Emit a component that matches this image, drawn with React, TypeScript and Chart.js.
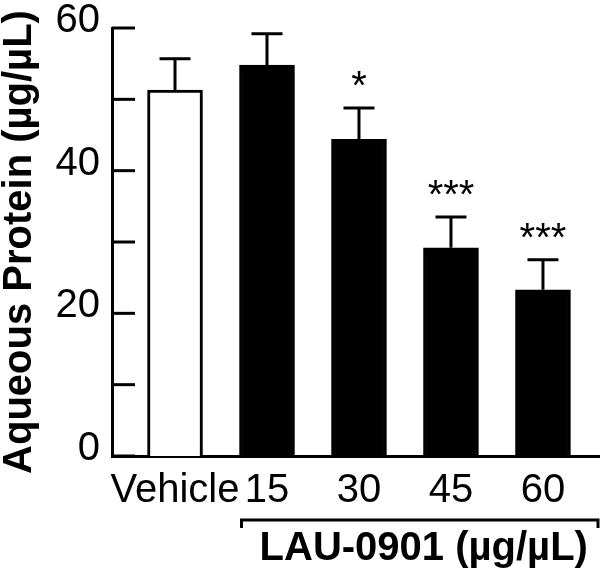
import React, { useEffect, useRef } from 'react';
import { Chart, registerables } from 'chart.js';

Chart.register(...registerables);

const categories = ['Vehicle', '15', '30', '45', '60'];
const means = [51.3, 54.8, 44.4, 29.2, 23.3];
const errors = [4.4, 4.4, 4.4, 4.3, 4.2];
const significance = ['', '', '*', '***', '***'];
const fillColors = ['#ffffff', '#000000', '#000000', '#000000', '#000000'];
const yTickValues = [0, 10, 20, 30, 40, 50, 60];
const yLabelledTicks = [0, 20, 40, 60];
const yTitle = 'Aqueous Protein (µg/µL)';
const groupLabel = 'LAU-0901 (µg/µL)';

const FONT = '"Liberation Sans", Arial, Helvetica, sans-serif';
const FONT_SIZE = 40;

const annotationPlugin = {
  id: 'annotations',
  afterDatasetsDraw(chart: any) {
    const ctx = chart.ctx as CanvasRenderingContext2D;
    const y = chart.scales.y;
    const area = chart.chartArea;
    const meta = chart.getDatasetMeta(0);
    ctx.save();
    ctx.strokeStyle = '#000';
    ctx.fillStyle = '#000';
    ctx.lineWidth = 3;
    ctx.lineCap = 'butt';

    // inward y ticks
    yTickValues.forEach((v) => {
      const py = y.getPixelForValue(v);
      ctx.beginPath();
      ctx.moveTo(area.left, py);
      ctx.lineTo(area.left + 23, py);
      ctx.stroke();
    });

    // error bars and significance marks
    meta.data.forEach((bar: any, i: number) => {
      const cx = bar.x;
      const top = y.getPixelForValue(means[i]);
      const cap = y.getPixelForValue(means[i] + errors[i]);
      ctx.beginPath();
      ctx.moveTo(cx, top);
      ctx.lineTo(cx, cap);
      ctx.moveTo(cx - 15.5, cap);
      ctx.lineTo(cx + 15.5, cap);
      ctx.stroke();
      if (significance[i]) {
        ctx.font = `${FONT_SIZE}px ${FONT}`;
        ctx.textAlign = 'center';
        ctx.textBaseline = 'alphabetic';
        ctx.fillText(significance[i], cx, cap - 9);
      }
    });

    // group bracket
    const first = meta.data[1];
    const bl = first.x - first.width / 2 + 2;
    const br = area.right - 2;
    const by = area.bottom + 64;
    ctx.beginPath();
    ctx.moveTo(bl, by + 8);
    ctx.lineTo(bl, by);
    ctx.lineTo(br, by);
    ctx.lineTo(br, by + 8);
    ctx.stroke();

    ctx.font = `bold ${FONT_SIZE}px ${FONT}`;
    ctx.textAlign = 'center';
    ctx.textBaseline = 'alphabetic';
    ctx.fillText(groupLabel, (bl + br) / 2 + 4, area.bottom + 104);
    ctx.restore();
  },
};

export default function App() {
  const canvasRef = useRef<HTMLCanvasElement | null>(null);

  useEffect(() => {
    document.body.style.margin = '0';
    const canvas = canvasRef.current;
    if (!canvas) return;
    Chart.defaults.font.family = FONT;
    Chart.defaults.color = '#000';

    const chart = new Chart(canvas, {
      type: 'bar',
      data: {
        datasets: [
          {
            data: means.map((v, i) => ({ x: i, y: v })),
            backgroundColor: fillColors,
            borderColor: '#000',
            borderWidth: 3,
            barThickness: 55,
          },
        ],
      },
      options: {
        animation: false,
        responsive: false,
        devicePixelRatio: 1,
        layout: { padding: { top: 28, left: 0, right: 0, bottom: 0 } },
        plugins: {
          legend: { display: false },
          tooltip: { enabled: false },
        },
        scales: {
          x: {
            type: 'linear',
            min: -0.685,
            max: 4.62,
            offset: false,
            z: 1,
            grid: { display: false, drawTicks: false },
            border: { display: true, width: 3, color: '#000' },
            afterBuildTicks: (scale: any) => {
              scale.ticks = categories.map((_, i) => ({ value: i }));
            },
            afterFit: (scale: any) => {
              scale.height = 115;
              scale.paddingLeft = 0;
              scale.paddingRight = 0;
            },
            ticks: {
              autoSkip: false,
              maxRotation: 0,
              padding: 11,
              color: '#000',
              font: { size: FONT_SIZE },
              callback: (v: any) => categories[v] ?? '',
            },
          },
          y: {
            type: 'linear',
            min: 0,
            max: 60,
            z: 1,
            grid: { display: false, drawTicks: false },
            border: { display: true, width: 3, color: '#000' },
            afterFit: (scale: any) => {
              scale.width = 112;
              scale.paddingTop = 0;
              scale.paddingBottom = 0;
            },
            ticks: {
              stepSize: 10,
              padding: 12,
              labelOffset: -7,
              color: '#000',
              font: { size: FONT_SIZE },
              callback: (v: any) => (yLabelledTicks.includes(v) ? String(v) : ''),
            },
            title: {
              display: true,
              text: yTitle,
              color: '#000',
              font: { size: FONT_SIZE, weight: 'bold', lineHeight: 1 },
              padding: { top: 0, bottom: 0 },
            },
          },
        },
      },
      plugins: [annotationPlugin],
    } as any);

    return () => {
      chart.destroy();
    };
  }, []);

  return (
    <div style={{ width: 600, height: 571 }}>
      <canvas ref={canvasRef} width={600} height={571} />
    </div>
  );
}
